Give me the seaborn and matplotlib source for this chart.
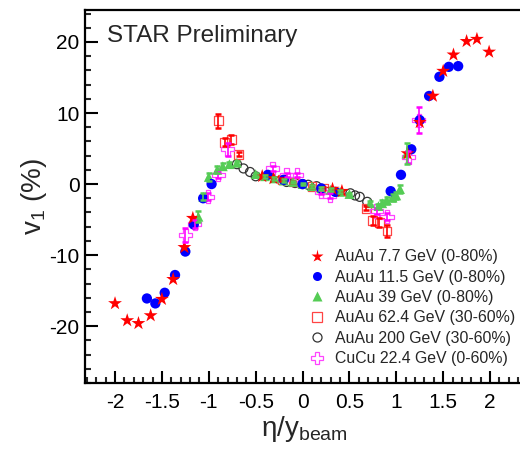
import matplotlib
matplotlib.use("Agg")
from matplotlib import pyplot as plt
from matplotlib.lines import Line2D
from matplotlib.ticker import MultipleLocator, FuncFormatter
import numpy as np
import pandas as pd
import seaborn as sns

# AuAu 7.7 GeV (0-80%)
au77_x = [-2.0, -1.87, -1.75, -1.62, -1.50, -1.38, -1.26, -1.17, -0.43, -0.31,
          0.32, 0.42, 1.12, 1.25, 1.39, 1.50, 1.61, 1.75, 1.86, 1.99]
au77_y = [-16.8, -19.2, -19.6, -18.5, -16.2, -13.4, -8.9, -4.8, 1.1, 0.8,
          -0.7, -1.0, 4.3, 8.7, 12.4, 15.9, 18.2, 20.1, 20.4, 18.6]

# AuAu 11.5 GeV (0-80%)
au115_x = [-1.66, -1.57, -1.47, -1.36, -1.25, -1.16, -1.06, -0.97, -0.37, -0.2, 0.0,
           0.2, 0.35, 0.94, 1.05, 1.16, 1.25, 1.35, 1.46, 1.56, 1.66]
au115_y = [-16.1, -16.8, -15.3, -12.8, -9.5, -5.7, -2.0, 0.0, 1.3, 0.6, 0.0,
           -0.6, -1.1, -1.0, 1.3, 4.9, 9.0, 12.4, 15.1, 16.5, 16.6]

# AuAu 39 GeV (0-80%)
au39_x = [-1.11, -1.06, -1.0, -0.91, -0.85, -0.78, -0.70, -0.5, -0.4, -0.3, -0.2, -0.1,
          0.0, 0.1, 0.2, 0.3, 0.4, 0.5, 0.72, 0.81, 0.85, 0.90, 0.96, 1.0, 1.04, 1.11]
au39_y = [-4.6, -1.8, 1.0, 2.0, 2.5, 2.8, 3.0, 1.4, 1.1, 0.8, 0.5, 0.3,
          0.0, -0.3, -0.6, -0.8, -1.1, -1.4, -2.7, -3.1, -2.7, -2.3, -1.9, -1.6, -0.7, 4.3]
au39_err = [0.8, 0.5, 0.5, 0.5, 0.4, 0.3, 0.3, 0.2, 0.2, 0.2, 0.2, 0.2,
            0.2, 0.2, 0.2, 0.2, 0.2, 0.2, 0.3, 0.3, 0.4, 0.5, 0.5, 0.5, 0.6, 1.5]

# AuAu 62.4 GeV (30-60%)
au62_x = [-0.90, -0.83, -0.76, -0.68, -0.22, -0.1, 0.1, 0.22, 0.68, 0.75, 0.82, 0.90]
au62_y = [8.9, 5.9, 6.3, 4.2, 0.6, 0.3, -0.3, -0.6, -3.4, -5.1, -5.4, -6.6]
au62_err = [1.0, 0.6, 0.6, 0.3, 0.2, 0.2, 0.2, 0.2, 0.3, 0.6, 0.6, 0.8]

# AuAu 200 GeV (30-60%)
au200_x = [-0.70, -0.63, -0.56, -0.50, -0.17, -0.08, 0.0, 0.06, 0.15,
           0.51, 0.56, 0.61, 0.69]
au200_y = [2.8, 2.2, 1.7, 1.1, 0.3, 0.15, 0.0, -0.1, -0.3,
           -1.3, -1.6, -1.8, -2.5]

# CuCu 22.4 GeV (0-60%)
cu22_x = [-1.25, -1.15, -1.01, -0.90, -0.80, -0.32, -0.17, -0.06, 0.2, 0.29,
          0.79, 0.90, 1.13, 1.24]
cu22_y = [-7.2, -5.6, -1.8, 1.3, 4.9, 2.2, 1.3, 1.3, -1.1, -1.6,
          -3.8, -4.6, 3.8, 9.0]
cu22_err = [1.0, 0.6, 0.5, 0.4, 0.9, 0.3, 0.3, 0.3, 0.3, 0.3,
            0.4, 0.5, 0.8, 1.8]

labels = ["AuAu 7.7 GeV (0-80%)", "AuAu 11.5 GeV (0-80%)", "AuAu 39 GeV (0-80%)",
          "AuAu 62.4 GeV (30-60%)", "AuAu 200 GeV (30-60%)", "CuCu 22.4 GeV (0-60%)"]
x_ticks = [-2, -1.5, -1, -0.5, 0, 0.5, 1, 1.5, 2]
y_ticks = [-20, -10, 0, 10, 20]

sns.set_style("ticks")
plt.rcParams["font.family"] = ["Liberation Sans", "DejaVu Sans"]
plt.rcParams["mathtext.default"] = "regular"
plt.rcParams["axes.unicode_minus"] = False

fig = plt.figure(figsize=(5.2, 4.49), dpi=100)
ax = fig.add_axes([0.1635, 0.147, 0.842, 0.8307])

# error bars first, markers on top
ax.errorbar(au62_x, au62_y, yerr=au62_err, fmt="none", ecolor="red",
            elinewidth=1.2, capsize=2.5, capthick=1.8)
ax.errorbar(cu22_x, cu22_y, yerr=cu22_err, fmt="none", ecolor="magenta",
            elinewidth=1.2, capsize=2.5, capthick=1.8)
ax.errorbar(au39_x, au39_y, yerr=au39_err, fmt="none", ecolor="#55cc55",
            elinewidth=1.2, capsize=2.5, capthick=1.8)

sns.scatterplot(x=au200_x, y=au200_y, ax=ax, marker="o", s=42,
                facecolors="none", edgecolor="#333333", linewidth=0.9)
sns.scatterplot(x=au62_x, y=au62_y, ax=ax, marker="s", s=40,
                facecolors="none", edgecolor="#ff4444", linewidth=0.9)
sns.scatterplot(x=cu22_x, y=cu22_y, ax=ax, marker="P", s=90,
                facecolors="none", edgecolor="#ff44ff", linewidth=0.9)
sns.scatterplot(x=au39_x, y=au39_y, ax=ax, marker="^", s=50,
                color="#55cc55", edgecolor="none")
sns.scatterplot(x=au115_x, y=au115_y, ax=ax, marker="o", s=55,
                color="blue", edgecolor="none")
sns.scatterplot(x=au77_x, y=au77_y, ax=ax, marker="*", s=110,
                color="red", edgecolor="none")

ax.set_xlim(-2.32, 2.35)
ax.set_ylim(-28, 24.5)
ax.set_xticks(x_ticks)
ax.set_yticks(y_ticks)
ax.xaxis.set_minor_locator(MultipleLocator(0.1))
ax.yaxis.set_minor_locator(MultipleLocator(2))
ax.xaxis.set_major_formatter(FuncFormatter(lambda v, p: f"{v:g}"))
ax.yaxis.set_major_formatter(FuncFormatter(lambda v, p: f"{v:g}"))
ax.tick_params(which="major", direction="in", length=9, width=1.5,
               labelsize=15, pad=4, colors="black")
ax.tick_params(which="minor", direction="in", length=4.5, width=1.5)
ax.tick_params(axis="x", which="major", pad=7)
ax.tick_params(top=False, right=False, which="both")
for side in ax.spines.values():
    side.set_linewidth(1.6)
    side.set_color("black")

ax.set_xlabel(r"η/y$_{beam}$", fontsize=20, labelpad=2)
ax.set_ylabel(r"v$_1$ (%)", fontsize=20, labelpad=0)
ax.text(0.05, 0.96, "STAR Preliminary", transform=ax.transAxes,
        fontsize=17.5, va="top", ha="left")

handles = [
    Line2D([], [], ls="none", marker="*", ms=9.5, color="red", mec="none"),
    Line2D([], [], ls="none", marker="o", ms=6.5, color="blue", mec="none"),
    Line2D([], [], ls="none", marker="^", ms=7, color="#55cc55", mec="none"),
    Line2D([], [], ls="none", marker="s", ms=6.5, mfc="none", mec="#ff4444", mew=0.9),
    Line2D([], [], ls="none", marker="o", ms=6.5, mfc="none", mec="#333333", mew=0.9),
    Line2D([], [], ls="none", marker="P", ms=9, mfc="none", mec="#ff44ff", mew=0.9),
]
fig.legend(handles, labels, loc="upper left", bbox_to_anchor=(0.594, 0.445),
           frameon=False, fontsize=11.4, handlelength=1.0, handletextpad=0.65,
           labelspacing=0.34, borderaxespad=0, borderpad=0)

fig.savefig("out.png", dpi=100)
